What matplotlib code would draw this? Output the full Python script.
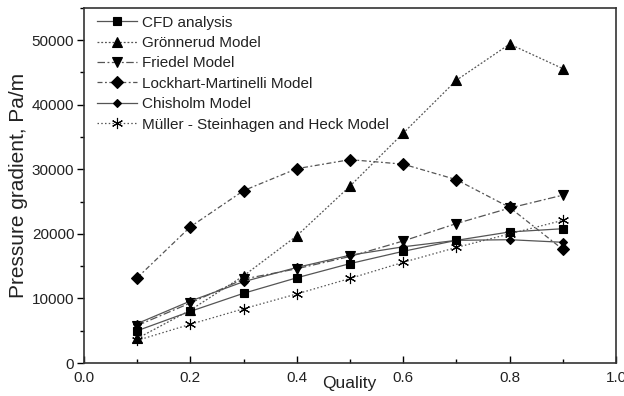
import numpy as np
import matplotlib
matplotlib.use("Agg")
import matplotlib.pyplot as plt
from matplotlib.ticker import MultipleLocator

quality = [0.1, 0.2, 0.3, 0.4, 0.5, 0.6, 0.7, 0.8, 0.9]

cfd = [5000, 8000, 10800, 13200, 15400, 17300, 19000, 20300, 20800]
gronnerud = [3800, 8200, 13500, 19700, 27400, 35600, 43800, 49400, 45600]
friedel = [5800, 9300, 13000, 14600, 16500, 18900, 21600, 24000, 26000]
lockhart = [13200, 21100, 26700, 30100, 31500, 30800, 28400, 24100, 17600]
chisholm = [6100, 9600, 12600, 14800, 16700, 18000, 19000, 19100, 18700]
muller = [3500, 6000, 8400, 10700, 13100, 15600, 17900, 20000, 22100]

labels = ["CFD analysis", "Grönnerud Model", "Friedel Model",
          "Lockhart-Martinelli Model", "Chisholm Model",
          "Müller - Steinhagen and Heck Model"]
xtick_vals = [0.0, 0.2, 0.4, 0.6, 0.8, 1.0]

plt.rcParams['font.family'] = ['Liberation Sans', 'DejaVu Sans']

fig = plt.figure(figsize=(6.24, 3.96), dpi=100)
ax = fig.add_axes([0.1346, 0.0833, 0.8526, 0.8967])

line_col = '#555555'
styles = [
    (cfd, 's', 6, '-'),
    (gronnerud, '^', 7, (0, (1.5, 1.5))),
    (friedel, 'v', 7, (0, (6, 2, 1.5, 2))),
    (lockhart, 'D', 6, (0, (4, 2, 1.5, 2))),
    (chisholm, 'D', 4.5, '-'),
    (muller, (6, 2, 0), 8, (0, (1.2, 1.8))),
]

for (vals, mk, ms, ls), lab in zip(styles, labels):
    ax.plot(quality, vals, linestyle=ls, color=line_col, linewidth=0.9,
            marker=mk, markersize=ms, markerfacecolor='black',
            markeredgecolor='black', markeredgewidth=0.8, label=lab)

ax.set_xlim(0.0, 1.0)
ax.set_ylim(0, 55000)
ax.xaxis.set_major_locator(MultipleLocator(0.2))
ax.xaxis.set_minor_locator(MultipleLocator(0.1))
ax.yaxis.set_major_locator(MultipleLocator(10000))
ax.yaxis.set_minor_locator(MultipleLocator(5000))
ax.set_xticklabels([])
for v in xtick_vals:
    ax.text(v, -0.042, "%.1f" % v, transform=ax.get_xaxis_transform(),
            ha='center', va='center', fontsize=11, color='#222222')
ax.tick_params(axis='x', which='major', direction='in', length=5, width=1)
ax.tick_params(axis='x', which='minor', direction='in', length=3, width=1)
ax.tick_params(axis='y', which='major', direction='out', length=5, width=1,
               labelsize=11, labelcolor='#222222', pad=2)
ax.tick_params(axis='y', which='minor', direction='out', length=3, width=1)
for s in ax.spines.values():
    s.set_linewidth(1.2)
    s.set_color('#333333')

ax.text(0.498, -0.058, "Quality", transform=ax.transAxes, ha='center',
        va='center', fontsize=12.5, color='#222222')
ax.set_ylabel("Pressure gradient, Pa/m", fontsize=15, color='#222222',
              labelpad=3)

ax.legend(loc='upper left', bbox_to_anchor=(0.01, 1.0), frameon=False,
          fontsize=11, handlelength=2.6, labelspacing=0.42,
          borderaxespad=0.1, handletextpad=0.35, labelcolor='#222222')

fig.savefig("out.png", dpi=100)
